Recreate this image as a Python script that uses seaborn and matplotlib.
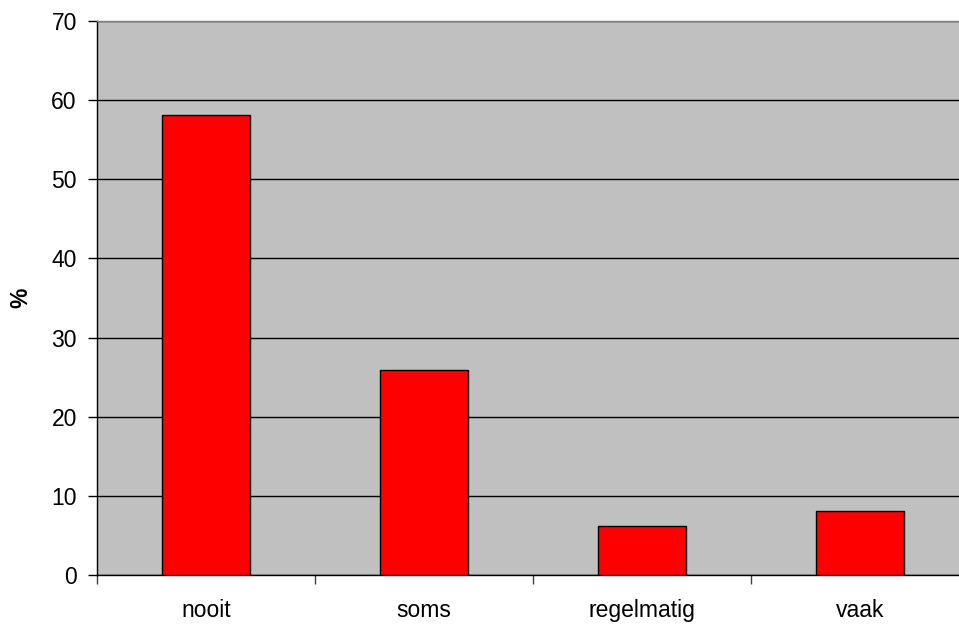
import pandas as pd
import matplotlib.pyplot as plt
import seaborn as sns

# Data
categories = ['nooit', 'soms', 'regelmatig', 'vaak']
percentages = [58.1, 25.9, 6.1, 8.0]

df = pd.DataFrame({'categorie': categories, 'procent': percentages})

sns.set_style('white')
plt.rcParams['font.family'] = ['Liberation Sans', 'DejaVu Sans']
plt.rcParams['text.color'] = 'black'
plt.rcParams['xtick.color'] = 'black'
plt.rcParams['ytick.color'] = 'black'
plt.rcParams['axes.labelcolor'] = 'black'

fig = plt.figure(figsize=(9.59, 6.25), dpi=100)
ax = fig.add_axes([0.1011, 0.0805, 0.9093, 0.8854])
ax.set_facecolor('#C0C0C0')

sns.barplot(data=df, x='categorie', y='procent', color='#FF0000', width=0.4,
            edgecolor='black', linewidth=1, saturation=1, ax=ax, zorder=3)

ax.set_ylim(0, 70)
ax.set_xlim(-0.5, len(categories) - 0.5)
ax.set_yticks(range(0, 71, 10))
ax.yaxis.grid(True, color='black', linewidth=1)
ax.set_axisbelow(True)

# tick marks sit between categories, labels under bars
ax.set_xticks([i - 0.5 for i in range(len(categories) + 1)], minor=True)
ax.tick_params(axis='x', which='major', bottom=True, length=0, pad=17.5, labelsize=16.5,
               labelcolor='black')
ax.tick_params(axis='x', which='minor', bottom=True, length=6.5, width=1, color='#404040',
               direction='out')
ax.tick_params(axis='y', left=True, length=6.5, width=1, color='black', direction='out',
               pad=8, labelsize=16.5, labelcolor='black')

for s in ['left', 'bottom']:
    ax.spines[s].set_color('black')
    ax.spines[s].set_linewidth(1)
ax.spines['top'].set_color('#808080')
ax.spines['top'].set_linewidth(1)
ax.spines['right'].set_visible(False)

ax.set_xlabel('')
ax.set_ylabel('%', fontsize=16.5, fontweight='bold', color='black')
ax.yaxis.set_label_coords(-0.0745, 0.5)

fig.savefig('out.png', dpi=100)
